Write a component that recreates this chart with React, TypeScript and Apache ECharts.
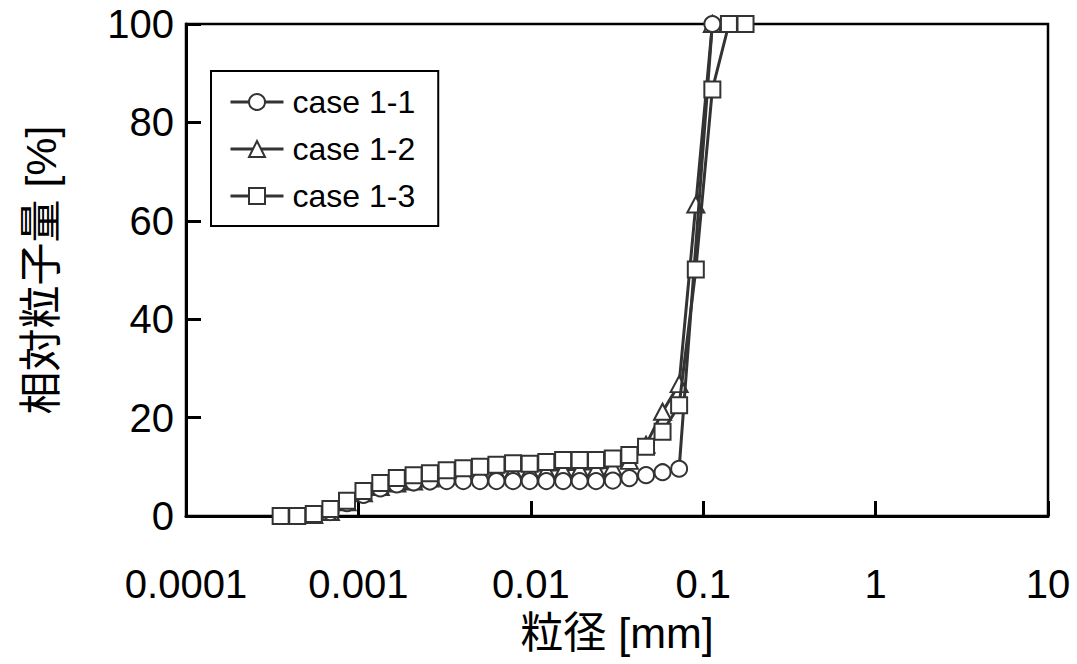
import React, { useEffect, useRef } from "react";
import * as echarts from "echarts";

// particle size [mm] (bins)
const sizes = [
  0.000354, 0.000442, 0.000551, 0.000688, 0.000859, 0.00107, 0.00134, 0.00167,
  0.00209, 0.0026, 0.00325, 0.00406, 0.00507, 0.00632, 0.00789, 0.00985,
  0.0123, 0.0154, 0.0192, 0.0239, 0.0299, 0.0373, 0.0466, 0.0581, 0.0725,
  0.0906, 0.113, 0.141, 0.176,
];

const case11: (number | null)[] = [
  null, null, 0.2, 0.8, 2.6, 4.3, 5.6, 6.4, 6.8, 7.0, 7.1, 7.1, 7.1, 7.1, 7.1,
  7.1, 7.1, 7.1, 7.1, 7.1, 7.2, 7.7, 8.3, 8.9, 9.6, null, 100, null, null,
];

const case12: (number | null)[] = [
  null, null, 0.2, 0.8, 2.8, 4.6, 5.9, 6.6, 7.0, 7.6, 8.2, 8.6, 8.9, 9.1, 9.2,
  9.3, 9.3, 9.4, 9.5, 9.6, 10.0, 11.2, 14.5, 21.2, 26.8, 63.3, 100, null, null,
];

const case13: (number | null)[] = [
  0, 0, 0.4, 1.4, 3.1, 5.1, 6.7, 7.7, 8.3, 8.7, 9.3, 9.7, 10.0, 10.4, 10.7,
  10.6, 11.0, 11.4, 11.4, 11.4, 11.7, 12.4, 14.1, 17.1, 22.5, 50.1, 86.7, 100, 100,
];

const seriesNames = ["case 1-1", "case 1-2", "case 1-3"];
const xTickLabels = ["0.0001", "0.001", "0.01", "0.1", "1", "10"];
const yTickLabels = ["0", "20", "40", "60", "80", "100"];

const FONT = "'Liberation Sans', Arial, 'Noto Sans CJK JP', sans-serif";

function pairs(vals: (number | null)[]) {
  const out: [number, number][] = [];
  vals.forEach((v, i) => {
    if (v !== null) out.push([sizes[i], v]);
  });
  return out;
}

export default function App() {
  const ref = useRef<HTMLDivElement>(null);
  useEffect(() => {
    if (!ref.current) return;
    const chart = echarts.init(ref.current, undefined, { renderer: "svg" });
    const markerStyle = { color: "#ffffff", borderColor: "#333333", borderWidth: 2 };
    const lineStyle = { color: "#333333", width: 3 };
    chart.setOption({
      animation: false,
      backgroundColor: "#ffffff",
      textStyle: { fontFamily: FONT },
      grid: {
        left: 186,
        right: 29,
        top: 24,
        bottom: 148,
        show: true,
        borderColor: "#000000",
        borderWidth: 2.5,
        containLabel: false,
      },
      legend: {
        data: seriesNames,
        orient: "vertical",
        left: 211,
        top: 71,
        padding: [15, 23, 14, 18],
        itemGap: 15,
        itemWidth: 53,
        itemHeight: 20,
        borderColor: "#000000",
        borderWidth: 2,
        backgroundColor: "#ffffff",
        lineStyle: { width: 3, color: "#333333" },
        textStyle: {
          fontFamily: FONT,
          fontSize: 32,
          color: "#000000",
          padding: [0, 0, 0, 4],
        },
      },
      xAxis: {
        type: "log",
        logBase: 10,
        min: 0.0001,
        max: 10,
        name: "粒径 [mm]",
        nameLocation: "middle",
        nameGap: 95,
        nameTextStyle: { fontFamily: FONT, fontSize: 43, color: "#000000" },
        axisLine: { show: true, lineStyle: { color: "#000000", width: 3 } },
        axisTick: { show: true, inside: true, length: 15, lineStyle: { color: "#000000", width: 3 } },
        minorTick: { show: false },
        splitLine: { show: false },
        axisLabel: {
          fontFamily: FONT,
          fontSize: 40,
          color: "#000000",
          margin: 48,
          showMinLabel: true,
          showMaxLabel: true,
          formatter: (v: number) => {
            const e = Math.round(Math.log10(v));
            return xTickLabels[e + 4] ?? "";
          },
        },
      },
      yAxis: {
        type: "value",
        min: 0,
        max: 100,
        interval: 20,
        name: "相対粒子量 [%]",
        nameLocation: "middle",
        nameGap: 124,
        nameTextStyle: { fontFamily: FONT, fontSize: 43, color: "#000000" },
        axisLine: { show: true, lineStyle: { color: "#000000", width: 3 } },
        axisTick: { show: true, inside: true, length: 15, lineStyle: { color: "#000000", width: 3 } },
        splitLine: { show: false },
        axisLabel: {
          fontFamily: FONT,
          fontSize: 40,
          color: "#000000",
          margin: 12,
          formatter: (v: number) => yTickLabels[Math.round(v / 20)] ?? "",
        },
      },
      series: [
        {
          name: seriesNames[0],
          type: "line",
          data: pairs(case11),
          symbol: "circle",
          symbolSize: 16,
          itemStyle: markerStyle,
          lineStyle,
          z: 3,
        },
        {
          name: seriesNames[1],
          type: "line",
          data: pairs(case12),
          symbol: "triangle",
          symbolSize: [17, 16],
          itemStyle: markerStyle,
          lineStyle,
          z: 2,
        },
        {
          name: seriesNames[2],
          type: "line",
          data: pairs(case13),
          symbol: "rect",
          symbolSize: 16,
          itemStyle: markerStyle,
          lineStyle,
          z: 4,
        },
      ],
    });
    return () => chart.dispose();
  }, []);
  return (
    <div
      ref={ref}
      style={{ position: "absolute", left: 0, top: 0, width: 1077, height: 664, background: "#fff" }}
    />
  );
}
